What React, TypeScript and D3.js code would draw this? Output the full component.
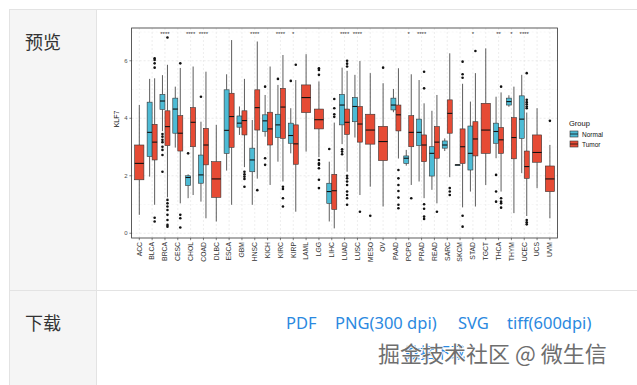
import * as d3 from 'd3'

// TCGA pan-cancer KLF7 expression, Normal vs Tumor
const categories = ['ACC', 'BLCA', 'BRCA', 'CESC', 'CHOL', 'COAD', 'DLBC', 'ESCA', 'GBM', 'HNSC', 'KICH', 'KIRC', 'KIRP', 'LAML', 'LGG', 'LIHC', 'LUAD', 'LUSC', 'MESO', 'OV', 'PAAD', 'PCPG', 'PRAD', 'READ', 'SARC', 'SKCM', 'STAD', 'TGCT', 'THCA', 'THYM', 'UCEC', 'UCS', 'UVM']

const signif = ['', '', '****', '', '****', '****', '', '', '', '****', '', '****', '*', '', '', '', '****', '****', '', '', '', '*', '****', '', '', '', '*', '', '**', '*', '****', '', '']

// [lower whisker, q1, median, q3, upper whisker]
const normalStats: (number[] | null)[] = [
  null, [1.97, 2.67, 3.51, 4.56, 5.37], [3.55, 4.31, 4.6, 4.83, 5.5], [2.98, 3.48, 4.32, 4.7, 5.1],
  [1.22, 1.66, 1.94, 2.0, 2.05], [1.1, 1.74, 2.03, 2.72, 3.88], null, [2.18, 2.78, 3.58, 4.99, 5.53],
  [3.42, 3.69, 3.83, 4.08, 4.41], [0.99, 2.14, 2.55, 2.96, 3.94], [3.36, 3.54, 3.91, 4.12, 4.81],
  [2.49, 3.33, 3.77, 4.14, 5.16], [2.78, 3.13, 3.4, 3.83, 4.35], null, null,
  [0.41, 1.04, 1.45, 1.74, 2.49], [3.1, 3.77, 4.46, 4.83, 5.76], [3.33, 3.88, 4.41, 4.72, 5.51],
  null, null, [4.21, 4.29, 4.46, 4.7, 5.02], [2.35, 2.43, 2.61, 2.69, 2.9],
  [1.8, 3.05, 3.51, 3.97, 5.33], [1.51, 1.99, 2.78, 3.01, 4.26], [2.86, 2.96, 3.07, 3.21, 3.3],
  [2.38, 2.38, 2.38, 2.38, 2.38], [1.45, 2.2, 2.78, 3.73, 4.58], null,
  [2.61, 3.13, 3.54, 3.83, 4.75], [4.4, 4.46, 4.58, 4.7, 4.8], [2.09, 3.3, 3.97, 4.78, 5.51], null, null,
]

const normalOutliers: number[][] = [
  [], [], [3.45, 3.36, 3.25, 3.17, 3.01, 2.9, 2.72, 2.14], [], [2.78], [4.75], [], [], [], [],
  [5.1, 2.61, 2.38], [5.37], [5.3], [], [], [2.93], [2.92, 2.84, 2.75], [], [], [], [], [], [],
  [], [], [], [], [], [2.03, 1.45, 1.1], [], [], [], [],
]

const tumorStats: number[][] = [
  [0.64, 1.86, 2.43, 3.07, 4.46], [0.99, 2.55, 3.17, 3.79, 5.39], [1.25, 3.05, 3.71, 4.26, 5.86],
  [1.04, 2.86, 3.48, 4.09, 5.75], [1.33, 3.01, 3.86, 4.37, 5.8], [0.52, 2.38, 3.07, 3.65, 5.62],
  [0.41, 1.25, 1.89, 2.49, 3.77], [0.99, 2.99, 4.06, 4.87, 6.72], [2.3, 3.42, 3.92, 4.26, 5.37],
  [1.9, 3.59, 4.37, 4.99, 6.67], [1.68, 3.07, 3.63, 4.21, 5.8], [1.8, 3.3, 4.39, 5.04, 6.2],
  [0.75, 2.4, 3.11, 3.77, 5.33], [2.84, 4.2, 4.72, 5.16, 6.23], [2.65, 3.63, 3.95, 4.32, 5.28],
  [0.17, 0.83, 1.48, 2.05, 3.85], [2.14, 3.44, 3.86, 4.32, 5.65], [1.33, 3.17, 3.8, 4.41, 5.99],
  [1.62, 3.1, 3.59, 4.14, 5.57], [0.93, 2.53, 3.19, 3.72, 5.22], [2.6, 3.56, 4.12, 4.46, 5.74],
  [1.68, 3.01, 3.51, 4.09, 5.53], [1.22, 2.49, 3.07, 3.42, 4.52], [1.04, 2.61, 3.17, 3.71, 4.81],
  [1.95, 3.48, 4.17, 4.64, 6.26], [0.9, 2.43, 3.01, 3.63, 5.2], [0.93, 2.69, 3.28, 3.88, 5.57],
  [1.68, 2.78, 3.59, 4.52, 6.43], [1.45, 2.78, 3.25, 3.68, 4.9], [0.7, 2.59, 3.33, 4.02, 5.1],
  [0.6, 1.91, 2.32, 2.86, 4.2], [1.57, 2.47, 2.81, 3.42, 4.35], [0.52, 1.45, 1.89, 2.34, 3.07],
]

const tumorOutliers: number[][] = [
  [], [6.09, 6.03, 5.91, 5.76, 0.54, 0.41], [6.81, 1.16, 1.04, 0.93, 0.81, 0.64, 0.46, 0.29, 0.23],
  [5.91, 0.64, 0.52, 0.2], [], [], [], [], [2.14, 2.05, 1.97, 1.89, 1.62], [1.5], [],
  [1.62, 1.54, 1.22, 0.93], [5.86], [], [5.74, 5.68, 5.51, 2.55, 2.43, 2.38, 2.26, 1.86, 1.57],
  [4.67, 4.35, 4.14, 4.05], [6.0, 5.9, 5.8, 2.0, 1.91, 1.8, 1.68, 1.45, 1.33, 1.22, 0.99], [0.75],
  [0.61], [5.76], [2.2, 1.91, 1.68, 1.47, 1.24, 0.99, 0.87], [1.22], [5.62, 5.04, 1.01, 0.85, 0.58, 0.5],
  [0.75], [1.57, 1.45, 1.33], [5.97, 5.53, 5.41, 0.61, 0.23], [6.34], [], [5.1, 1.22, 1.1, 1.04, 0.89],
  [], [5.57, 4.64, 4.56, 4.49, 4.41, 4.35, 0.46, 0.38, 0.31], [], [3.91],
]

const yTicks = [0, 2, 4, 6]
const groups = ['Normal', 'Tumor']
const groupColors = ['#4DBBD5', '#E64B35']
const links = ['PDF', 'PNG(300 dpi)', 'SVG', 'tiff(600dpi)']
const linkX = [286, 335, 458, 507]

const panel = { left: 131.6, right: 557.6, top: 28, bottom: 238 }
const chartFont = '"Liberation Sans", Arial, sans-serif'
const cjkFont = '"Noto Sans CJK SC", "Noto Sans", sans-serif'
const border = '#e3e3e3'

function Box(props: { cx: number; w: number; s: number[]; out: number[]; fill: string; y: d3.ScaleLinear<number, number> }) {
  const { cx, w, s, out, fill, y } = props
  const [lo, q1, med, q3, hi] = s
  return (
    <g>
      <line x1={cx} x2={cx} y1={y(q3)} y2={y(hi)} stroke="#333" strokeWidth={0.8} />
      <line x1={cx} x2={cx} y1={y(q1)} y2={y(lo)} stroke="#333" strokeWidth={0.8} />
      <rect x={cx - w / 2} y={y(q3)} width={w} height={Math.max(y(q1) - y(q3), 0.8)} fill={fill} stroke="#333" strokeWidth={0.6} />
      <line x1={cx - w / 2} x2={cx + w / 2} y1={y(med)} y2={y(med)} stroke="#111" strokeWidth={1.1} />
      {out.map((o, k) => <circle key={k} cx={cx} cy={y(o)} r={1.3} fill="#111" />)}
    </g>
  )
}

export default function App() {
  const x = d3.scalePoint<string>().domain(categories).range([panel.left, panel.right]).padding(0.6)
  const y = d3.scaleLinear().domain([-0.165, 7.14]).range([panel.bottom, panel.top])
  const step = x.step()
  const boxW = step * 0.78
  const minor = d3.range(1, 8, 2)

  return (
    <svg width={637} height={385} style={{ position: 'fixed', left: 0, top: 0 }}>
      <rect width={637} height={385} fill="#fff" />
      {/* page table */}
      <rect x={9} y={9} width={87.5} height={380} fill="#f5f5f5" />
      <line x1={9} x2={637} y1={9.5} y2={9.5} stroke={border} />
      <line x1={9.5} x2={9.5} y1={9} y2={385} stroke={border} />
      <line x1={96.5} x2={96.5} y1={9} y2={385} stroke={border} />
      <line x1={9} x2={637} y1={290.5} y2={290.5} stroke={border} />
      <text x={25} y={48.5} fontSize={18} fill="#333" fontFamily={cjkFont}>预览</text>
      <text x={25} y={330} fontSize={18} fill="#333" fontFamily={cjkFont}>下载</text>
      {links.map((l, i) => (
        <text key={l} x={linkX[i]} y={329} fontSize={16.5} fill="#2b89e0" fontFamily='"Noto Sans", sans-serif'>{l}</text>
      ))}
      <text x={405} y={358} fontSize={15} fill="#2b89e0" fontFamily={cjkFont}>数据下载</text>
      <text x={378} y={362} fontSize={22} fill="#6e6e6e" stroke="#fff" strokeWidth={1.6} paintOrder="stroke" fontFamily={cjkFont}>掘金技术社区 @ 微生信</text>

      {/* chart */}
      <g fontFamily={chartFont}>
        {yTicks.map(t => (
          <line key={'g' + t} x1={panel.left} x2={panel.right} y1={y(t)} y2={y(t)} stroke="#dedede" strokeWidth={0.6} strokeDasharray="2,2" />
        ))}
        {minor.map(t => (
          <line key={'m' + t} x1={panel.left} x2={panel.right} y1={y(t)} y2={y(t)} stroke="#eeeeee" strokeWidth={0.5} strokeDasharray="2,2" />
        ))}
        {categories.map(c => (
          <line key={'v' + c} x1={x(c)} x2={x(c)} y1={panel.top} y2={panel.bottom} stroke="#e2e2e2" strokeWidth={0.6} strokeDasharray="2,2" />
        ))}

        {categories.map((c, i) => {
          const cx = x(c) as number
          const ns = normalStats[i]
          if (!ns) {
            return <Box key={c} cx={cx} w={boxW * 0.92} s={tumorStats[i]} out={tumorOutliers[i]} fill={groupColors[1]} y={y} />
          }
          return (
            <g key={c}>
              <Box cx={cx - boxW / 4} w={boxW / 2} s={ns} out={normalOutliers[i]} fill={groupColors[0]} y={y} />
              <Box cx={cx + boxW / 4} w={boxW / 2} s={tumorStats[i]} out={tumorOutliers[i]} fill={groupColors[1]} y={y} />
            </g>
          )
        })}

        {categories.map((c, i) => signif[i] ? (
          <text key={'s' + c} x={x(c)} y={35.5} fontSize={6} fill="#333" textAnchor="middle">{signif[i]}</text>
        ) : null)}

        <rect x={panel.left} y={panel.top} width={panel.right - panel.left} height={panel.bottom - panel.top} fill="none" stroke="#333" strokeWidth={0.8} />

        {yTicks.map(t => (
          <g key={'yt' + t}>
            <line x1={panel.left - 2.2} x2={panel.left} y1={y(t)} y2={y(t)} stroke="#333" strokeWidth={0.6} />
            <text x={panel.left - 4} y={y(t)} dy="0.35em" fontSize={6} fill="#4d4d4d" textAnchor="end">{t}</text>
          </g>
        ))}
        {categories.map(c => (
          <g key={'xt' + c}>
            <line x1={x(c)} x2={x(c)} y1={panel.bottom} y2={panel.bottom + 2.2} stroke="#333" strokeWidth={0.6} />
            <text transform={`translate(${(x(c) as number) + 2.3},${panel.bottom + 4}) rotate(-90)`} fontSize={6.8} fill="#333" textAnchor="end">{c}</text>
          </g>
        ))}
        <text transform="translate(119,119) rotate(-90)" fontSize={7} fill="#111" textAnchor="middle">KLF7</text>

        {/* legend */}
        <text x={569} y={125.5} fontSize={7.5} fill="#111">Group</text>
        {groups.map((g, i) => (
          <g key={g} transform={`translate(570,${131 + i * 10})`}>
            <rect width={8} height={6} fill={groupColors[i]} stroke="#333" strokeWidth={0.6} />
            <line x1={0} x2={8} y1={3} y2={3} stroke="#111" strokeWidth={0.8} />
            <text x={12} y={5.5} fontSize={6.5} fill="#111">{g}</text>
          </g>
        ))}
      </g>
    </svg>
  )
}
